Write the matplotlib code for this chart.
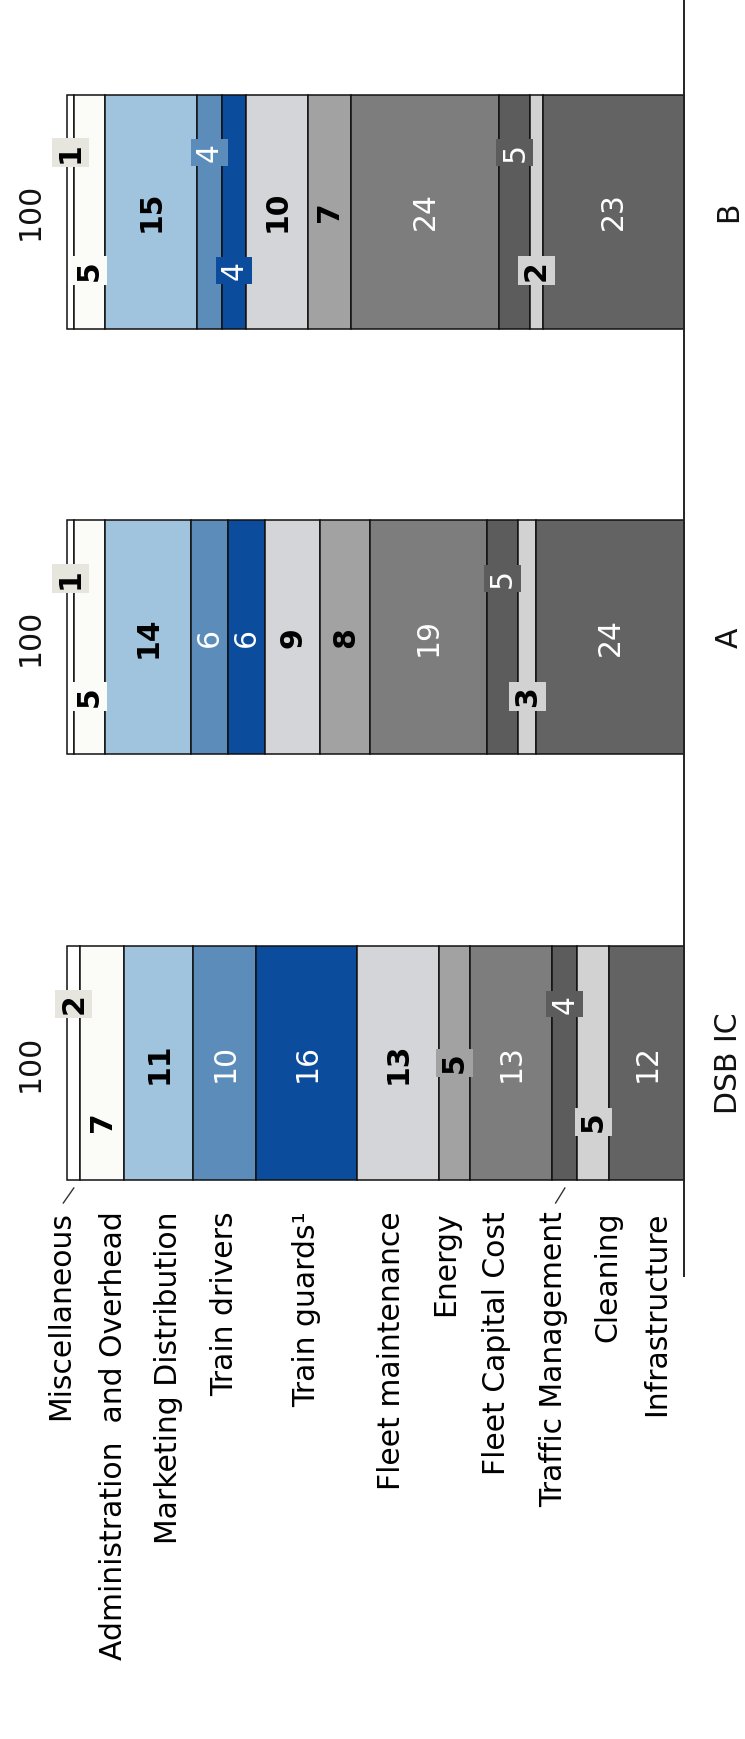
import matplotlib
matplotlib.use("Agg")
import matplotlib.pyplot as plt
import numpy as np

plt.rcParams['font.family'] = ['DejaVu Sans']

# 数据
categories = ["Miscellaneous", "Administration  and Overhead", "Marketing Distribution",
              "Train drivers", "Train guards\u00b9", "Fleet maintenance", "Energy",
              "Fleet Capital Cost", "Traffic Management", "Cleaning", "Infrastructure"]
bar_names = ["DSB IC", "A", "B"]
dsb_ic_vals = [2, 7, 11, 10, 16, 13, 5, 13, 4, 5, 12]
a_vals = [1, 5, 14, 6, 6, 9, 8, 19, 5, 3, 24]
b_vals = [1, 5, 15, 4, 4, 10, 7, 24, 5, 2, 23]
totals = [100, 100, 100]

# 颜色
seg_colors = ['#ffffff', '#fbfbf7', '#a0c3de', '#5b8cba', '#0b4c9c', '#d3d5d9',
              '#a2a2a2', '#7d7d7d', '#5c5c5c', '#d2d2d2', '#636363']
box_colors = ['#e6e6de'] + seg_colors[1:]
txt_colors = ['black', 'black', 'black', 'white', 'white', 'black',
              'black', 'white', 'white', 'black', 'white']

# 标签位置: c=居中, u=偏上, d=偏下, 大写带底框
label_place = {
    "DSB IC": ['U', 'd', 'c', 'c', 'c', 'c', 'C', 'c', 'U', 'D', 'c'],
    "A": ['U', 'D', 'c', 'c', 'c', 'c', 'c', 'c', 'U', 'D', 'c'],
    "B": ['U', 'D', 'c', 'U', 'D', 'c', 'c', 'c', 'U', 'D', 'c'],
}
# 类别标签相对于 DSB IC 分段中心的微调 (数值单位)
name_nudge = [2.1, -1.9, -1.5, 0.0, 0.0, 1.1, 1.5, 2.4, 1.9, -2.4, -1.6]

W, H, DPI = 745, 1739, 100
PX = 6.17          # 每单位像素
BASE = 684.5       # 基线像素位置
STEP = 425.75      # 柱间距像素
C0 = 1063          # DSB IC 柱中心像素
FS = 21.5

fig = plt.figure(figsize=(W / DPI, H / DPI), dpi=DPI)
ax = fig.add_axes([0, 0, 1, 1])
ax.set_xlim(BASE / PX, (BASE - W) / PX)
ax.set_ylim((C0 - H) / STEP, C0 / STEP)
ax.axis('off')

bar_h = 234 / STEP
off = 59 / STEP

all_vals = [dsb_ic_vals, a_vals, b_vals]
for yi, (name, vals) in enumerate(zip(bar_names, all_vals)):
    v = np.array(vals, dtype=float)
    w = v / v.sum() * totals[yi]
    # 从基线开始堆叠: Infrastructure 在基线处
    left = np.concatenate([np.cumsum(w[::-1])[::-1][1:], [0]])
    ax.barh(yi, w, left=left, height=bar_h, color=seg_colors,
            edgecolor='#111111', linewidth=1.1, zorder=2)
    centers = left + w / 2
    for i, val in enumerate(vals):
        p = label_place[name][i]
        dy = {'c': 0, 'u': off, 'd': -off}[p.lower()]
        dark = txt_colors[i] == 'black'
        kw = {}
        if p.isupper():
            kw['bbox'] = dict(boxstyle='square,pad=0.13', fc=box_colors[i], ec='none')
        ax.text(centers[i], yi + dy, str(val), rotation=90, ha='center', va='center',
                fontsize=FS, color=txt_colors[i],
                fontweight='bold' if dark else 'normal', zorder=4, **kw)
    # 总计
    ax.text(totals[yi] + 6.1, yi, str(totals[yi]), rotation=90, ha='center',
            va='center', fontsize=FS, color='#111111')
    # 柱名称
    ax.text(-7.2, yi, name, rotation=90, ha='center', va='center',
            fontsize=FS, color='#111111')

    if name == "DSB IC":
        label_y = yi - bar_h / 2 - 31 / STEP
        for i, cat in enumerate(categories):
            lx = centers[i] + name_nudge[i]
            ax.text(lx, label_y, cat, rotation=90, rotation_mode='anchor',
                    ha='right', va='center', fontsize=FS, color='black')
            if cat in ("Miscellaneous", "Traffic Management"):
                ax.plot([lx - 0.4, centers[i]],
                        [label_y + 8 / STEP, yi - bar_h / 2 - 8 / STEP],
                        color='#333333', lw=1.0)

# 基线
ax.vlines(0, -bar_h / 2 - 97 / STEP, C0 / STEP, color='#222222', lw=1.4, zorder=3)

fig.savefig('out.png', dpi=DPI, facecolor='white')
